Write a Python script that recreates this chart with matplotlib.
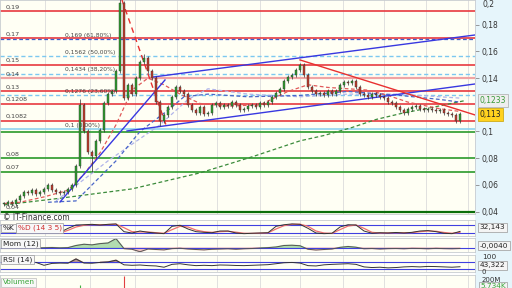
import matplotlib
matplotlib.use("Agg")
import matplotlib.pyplot as plt
import matplotlib.transforms as mtransforms
from matplotlib.patches import Rectangle

W, H = 512, 288

# ---- price data (one candle per trading-day slot) ----
closes = [0.046, 0.047, 0.046, 0.049, 0.052, 0.055, 0.054, 0.056, 0.053, 0.055,
          0.057, 0.060, 0.056, 0.055, 0.054, 0.055, 0.057, 0.060, 0.074, 0.120,
          0.100, 0.085, 0.082, 0.093, 0.101, 0.121, 0.128, 0.130, 0.145, 0.196,
          0.125, 0.135, 0.128, 0.140, 0.152, 0.155, 0.145, 0.140, 0.122, 0.108,
          0.112, 0.118, 0.126, 0.133, 0.130, 0.128, 0.120, 0.116, 0.114, 0.118,
          0.113, 0.114, 0.120, 0.121, 0.118, 0.120, 0.119, 0.122, 0.120, 0.116,
          0.117, 0.119, 0.120, 0.118, 0.121, 0.120, 0.122, 0.126, 0.129, 0.132,
          0.138, 0.141, 0.142, 0.146, 0.150, 0.142, 0.133, 0.130, 0.128, 0.129,
          0.127, 0.130, 0.128, 0.130, 0.135, 0.137, 0.136, 0.138, 0.133, 0.128,
          0.127, 0.126, 0.128, 0.127, 0.126, 0.125, 0.122, 0.121, 0.118, 0.116,
          0.114, 0.117, 0.118, 0.119, 0.117, 0.116, 0.117, 0.116, 0.115, 0.116,
          0.114, 0.113, 0.112, 0.108, 0.113]
spike_high = {19: 0.124, 29: 0.205, 35: 0.158}
spike_low = {22: 0.070, 39: 0.104, 113: 0.106}

# moving averages (day index, value)
ma_green_x = [0, 14, 32, 49, 62, 74, 80, 87, 93, 100, 107, 115]
ma_green_v = [0.045, 0.050, 0.057, 0.069, 0.081, 0.093, 0.097, 0.103, 0.109, 0.114, 0.118, 0.123]
ma_red_x = [0, 4, 10, 16, 20, 24, 28, 32, 36, 40, 44, 49, 56, 64, 71, 76, 81, 86, 91, 96, 101, 109, 114]
ma_red_v = [0.046, 0.047, 0.051, 0.056, 0.068, 0.084, 0.105, 0.131, 0.140, 0.135, 0.128, 0.121,
            0.119, 0.120, 0.130, 0.135, 0.133, 0.132, 0.131, 0.127, 0.122, 0.117, 0.115]
ma_blue_x = [11, 18, 28, 34, 41, 45, 51, 61, 74, 86, 99, 109, 114]
ma_blue_v = [0.047, 0.048, 0.078, 0.100, 0.116, 0.126, 0.128, 0.126, 0.127, 0.130, 0.127, 0.124, 0.122]
ma_lav_x = [13, 26, 39, 46, 51, 61, 74, 86, 99, 114]
ma_lav_v = [0.048, 0.078, 0.105, 0.124, 0.132, 0.128, 0.126, 0.128, 0.128, 0.125]

# trend lines ((x0, v0), (x1, v1))
blue_trends = [((14, 0.0472), (40.25, 0.1386)),
               ((37.25, 0.1408), (117.75, 0.1723)),
               ((30.75, 0.1004), (117.75, 0.1356))]
red_trends = [((74, 0.1536), (117.75, 0.1124))]
red_dash_trends = [((29.5, 0.1985), (40.5, 0.1049))]

# horizontal levels
red_levels = [0.19, 0.17, 0.15, 0.13, 0.1208, 0.1082]
pink_levels = [0.14]
green_levels = [0.08, 0.07, 0.0995]
dark_green_levels = [0.04]
fib_solid = [0.1015]
fib_dashed = [0.1562, 0.1434, 0.1276]
fib_dark_dashed = [0.169]
fib_labels = ["0,169 (61,80%)", "0,1562 (50,00%)", "0,1434 (38,20%)", "0,1276 (23,60%)", "0,1 (0,00%)"]
fib_label_levels = [0.169, 0.1562, 0.1434, 0.1276, 0.1015]
left_labels = ["0,19", "0,17", "0,15", "0,14", "0,13", "0,1208", "0,1082", "0,08", "0,07", "0,04"]
left_label_levels = [0.19, 0.17, 0.15, 0.14, 0.13, 0.1208, 0.1082, 0.08, 0.07, 0.04]
right_ticks = [0.04, 0.06, 0.08, 0.1, 0.14, 0.16, 0.18]
grid_days = [10.25, 21.5, 32.75, 43.25, 53.25, 64, 74, 84.75, 95, 105.5, 116]

# indicators
stoch_x = list(range(14, 115, 2))
stoch_k = [25, 55, 80, 82, 85, 80, 85, 88, 30, 20, 35, 25, 20, 15, 70, 78, 50, 30, 25, 22,
           35, 35, 20, 15, 18, 20, 22, 70, 82, 88, 85, 55, 20, 15, 18, 65, 82, 80, 35, 18,
           22, 20, 24, 20, 25, 35, 38, 30, 18, 15, 32]
stoch_d = [20, 40, 65, 78, 83, 82, 83, 86, 60, 30, 28, 28, 22, 18, 45, 70, 65, 42, 30, 25,
           30, 33, 26, 18, 17, 19, 21, 50, 75, 85, 86, 70, 35, 20, 17, 45, 72, 80, 55, 25,
           20, 21, 22, 22, 23, 30, 35, 33, 24, 18, 25]
ind_x = list(range(8, 115, 2))
mom = [0.0, 0.002, 0.004, 0.001, 0.003, 0.02, 0.03, 0.025, 0.035, 0.04, 0.075, -0.005,
       -0.01, -0.03, -0.008, -0.012, -0.015, -0.005, -0.002, -0.008, -0.012, -0.015, -0.01,
       -0.008, -0.006, -0.01, -0.006, -0.004, 0.0, 0.003, 0.008, 0.02, 0.022, 0.018, -0.01,
       -0.016, -0.012, -0.008, 0.005, 0.012, 0.006, -0.006, -0.004, -0.008, -0.005, -0.004,
       -0.006, -0.003, -0.004, -0.006, -0.003, -0.005, -0.006, -0.004]
rsi = [70, 52, 64, 66, 65, 92, 66, 65, 70, 73, 84, 55, 52, 54, 50, 48, 40, 58, 62, 55, 50,
       52, 50, 54, 53, 51, 50, 52, 54, 56, 62, 68, 70, 66, 50, 48, 55, 58, 60, 62, 58, 42,
       38, 40, 36, 38, 42, 44, 42, 45, 44, 42, 40, 43]
vol_x = [19, 30]
vol_v = [0.45, 0.95]


def px_rect(x0, y0, x1, y1):
    return [x0 / W, 1 - y1 / H, (x1 - x0) / W, (y1 - y0) / H]


BG = "#fffff4"
XLIM = (-1, 117.75)

fig = plt.figure(figsize=(W / 100, H / 100), dpi=100, facecolor="white")
fig.patches.append(Rectangle((475 / W, 0), 37 / W, 1, transform=fig.transFigure,
                             facecolor="#e6f5fb", edgecolor="none", zorder=-5))


def style(ax):
    ax.set_facecolor(BG)
    ax.set_xlim(*XLIM)
    ax.set_xticks([])
    for s in ax.spines.values():
        s.set_color("#c8ccd0")
        s.set_linewidth(0.6)
    for g in grid_days:
        ax.axvline(g, color="#dcdcdc", lw=0.6, zorder=0)


# ---- main price panel ----
ax = fig.add_axes(px_rect(0, 0, 475, 214))
style(ax)
ax.set_ylim(0.0382, 0.1985)

for lv in red_levels:
    ax.axhline(lv, color="#e83a3f", lw=1.2, zorder=2)
for lv in pink_levels:
    ax.axhline(lv, color="#f0a4a4", lw=1.6, zorder=2)
for lv in green_levels:
    ax.axhline(lv, color="#2a9a2a", lw=1.2, zorder=2)
for lv in dark_green_levels:
    ax.axhline(lv, color="#0b6e0b", lw=1.6, zorder=2)
for lv in fib_solid:
    ax.axhline(lv, color="#8fd3f0", lw=1.2, zorder=2)
for lv in fib_dashed:
    ax.axhline(lv, color="#7cc8f0", lw=1.0, ls=(0, (3, 2)), zorder=2)
for lv in fib_dark_dashed:
    ax.axhline(lv, color="#3a5fcd", lw=0.9, ls=(0, (3, 2)), zorder=2)

for lab, lv in zip(fib_labels, fib_label_levels):
    ax.text(15.25, lv + 0.0008, lab, fontsize=4.3, color="#444444", va="bottom", zorder=6)
for lab, lv in zip(left_labels, left_label_levels):
    ax.text(0.3, lv + 0.0012, lab, fontsize=4.6, color="#444444", va="bottom", zorder=6)

ax.plot(ma_green_x, ma_green_v, color="#3b8b3b", lw=0.9, ls=(0, (3, 2)), zorder=3)
ax.plot(ma_lav_x, ma_lav_v, color="#b0b4ea", lw=0.9, ls=(0, (3, 2)), zorder=3)
ax.plot(ma_blue_x, ma_blue_v, color="#4a66c8", lw=0.9, ls=(0, (3, 2)), zorder=3)
ax.plot(ma_red_x, ma_red_v, color="#e05a5a", lw=0.9, ls=(0, (3, 2)), zorder=3)

for (x0, v0), (x1, v1) in blue_trends:
    ax.plot([x0, x1], [v0, v1], color="#3838e0", lw=1.0, zorder=4)
for (x0, v0), (x1, v1) in red_trends:
    ax.plot([x0, x1], [v0, v1], color="#e83030", lw=1.0, zorder=4)
for (x0, v0), (x1, v1) in red_dash_trends:
    ax.plot([x0, x1], [v0, v1], color="#e83030", lw=1.0, ls=(0, (4, 3)), zorder=4)

# candles
opens = [closes[0]] + closes[:-1]
for i, (o, c) in enumerate(zip(opens, closes)):
    up = c >= o
    hi = spike_high.get(i, max(o, c) + 0.0015)
    lo = spike_low.get(i, min(o, c) - 0.0015)
    ax.vlines(i, lo, hi, color="#333333", lw=0.5, zorder=5)
    body = max(abs(c - o), 0.0008)
    ax.bar(i, body, bottom=min(o, c), width=0.7,
           color="#2e9e2e" if up else "#c23b2b", edgecolor="#333333", lw=0.3, zorder=5)

ax.yaxis.tick_right()
ax.set_yticks(right_ticks)
ax.set_yticklabels([f"{t:g}".replace(".", ",") for t in right_ticks])
ax.tick_params(axis="y", length=3, width=0.6, color="#888888", labelsize=5.5,
               labelcolor="#333333", pad=2)
trans = mtransforms.blended_transform_factory(ax.transAxes, ax.transData)
ax.text(1.015, 0.1985, "0,2", transform=trans, fontsize=5.5, color="#333333", va="top", clip_on=False)
ax.text(1.01, 0.1233, "0,1233", transform=trans, fontsize=5.5, color="#3a9a3a", va="center",
        bbox=dict(boxstyle="square,pad=0.25", fc="#eeeeee", ec="#aaaaaa", lw=0.5), clip_on=False, zorder=7)
ax.text(1.01, 0.113, "0,113", transform=trans, fontsize=5.5, color="#222222", va="center",
        bbox=dict(boxstyle="square,pad=0.25", fc="#ffd21f", ec="#c8a000", lw=0.5), clip_on=False, zorder=7)

fig.text(3 / W, 1 - 217 / H, "© IT-Finance.com", fontsize=5.5, color="#333333", va="center")


def panel_label(a, parts, y):
    x = 0.006
    for txt, col in parts:
        a.text(x, y, txt, transform=a.transAxes, fontsize=5.3, color=col, va="center",
               bbox=dict(boxstyle="square,pad=0.2", fc="#f8f8f8", ec="#999999", lw=0.5), zorder=7)
        x += 0.012 + 0.0095 * len(txt)


def right_box(a, y, txt, col="#222222"):
    a.text(1.01, y, txt, transform=a.transAxes, fontsize=5.3, color=col, va="center",
           bbox=dict(boxstyle="square,pad=0.2", fc="#f4f4f4", ec="#999999", lw=0.5), clip_on=False)


# ---- stochastic ----
a1 = fig.add_axes(px_rect(0, 220, 475, 236))
style(a1)
a1.set_ylim(-2.5, 117.5)
a1.set_yticks([])
for lv in (20, 80):
    a1.axhline(lv, color="#4040e0", lw=0.8)
a1.plot(stoch_x, stoch_d, color="#f07070", lw=0.9)
a1.plot(stoch_x, stoch_k, color="#333333", lw=0.7)
panel_label(a1, [("%K", "#222222"), ("%D (14 3 5)", "#d03030")], 0.5)
right_box(a1, 0.55, "32,143")

# ---- momentum ----
a2 = fig.add_axes(px_rect(0, 238, 475, 252))
style(a2)
a2.set_ylim(-0.032, 0.08)
a2.set_yticks([])
a2.axhline(0, color="#4040e0", lw=0.8)
a2.fill_between(ind_x, mom, 0, where=[m > 0 for m in mom], interpolate=True, color="#9fd49f", alpha=0.8)
a2.fill_between(ind_x, mom, 0, where=[m < 0 for m in mom], interpolate=True, color="#f2b8b8", alpha=0.8)
a2.plot(ind_x, mom, color="#555555", lw=0.7)
panel_label(a2, [("Mom (12)", "#222222")], 0.62)
right_box(a2, 0.45, "-0,0040")

# ---- RSI ----
a3 = fig.add_axes(px_rect(0, 255, 475, 272))
style(a3)
a3.set_ylim(10, 116.7)
a3.set_yticks([])
for lv in (30, 70):
    a3.axhline(lv, color="#4040e0", lw=0.8)
a3.fill_between(ind_x, rsi, 70, where=[r > 70 for r in rsi], interpolate=True, color="#a07070", alpha=0.7)
a3.plot(ind_x, rsi, color="#333333", lw=0.7)
panel_label(a3, [("RSI (14)", "#222222")], 0.72)
fig.text(482 / W, 1 - 257 / H, "100", fontsize=5.3, color="#333333", va="center")
right_box(a3, 0.4, "43,322")
fig.text(482 / W, 1 - 271.5 / H, "0", fontsize=5, color="#333333", va="center")

# ---- volume ----
a4 = fig.add_axes(px_rect(0, 275, 475, 294))
style(a4)
a4.set_ylim(0, 1)
a4.set_yticks([])
a4.vlines(vol_x, 0, vol_v, colors=["#40b040", "#e04040"], lw=0.8)
a4.text(0.006, 0.62, "Volumen", transform=a4.transAxes, fontsize=5.3, color="#3aa63a", va="center",
        bbox=dict(boxstyle="square,pad=0.2", fc="#f8f8f8", ec="#bbbbbb", lw=0.5))
fig.text(482 / W, 1 - 280 / H, "200M", fontsize=5, color="#333333", va="center")
fig.text(480 / W, 1 - 286 / H, "5,734K", fontsize=5.3, color="#3aa63a", va="center",
         bbox=dict(boxstyle="square,pad=0.2", fc="#f4f4f4", ec="#999999", lw=0.5))

fig.savefig("out.png", dpi=100, facecolor="white")
